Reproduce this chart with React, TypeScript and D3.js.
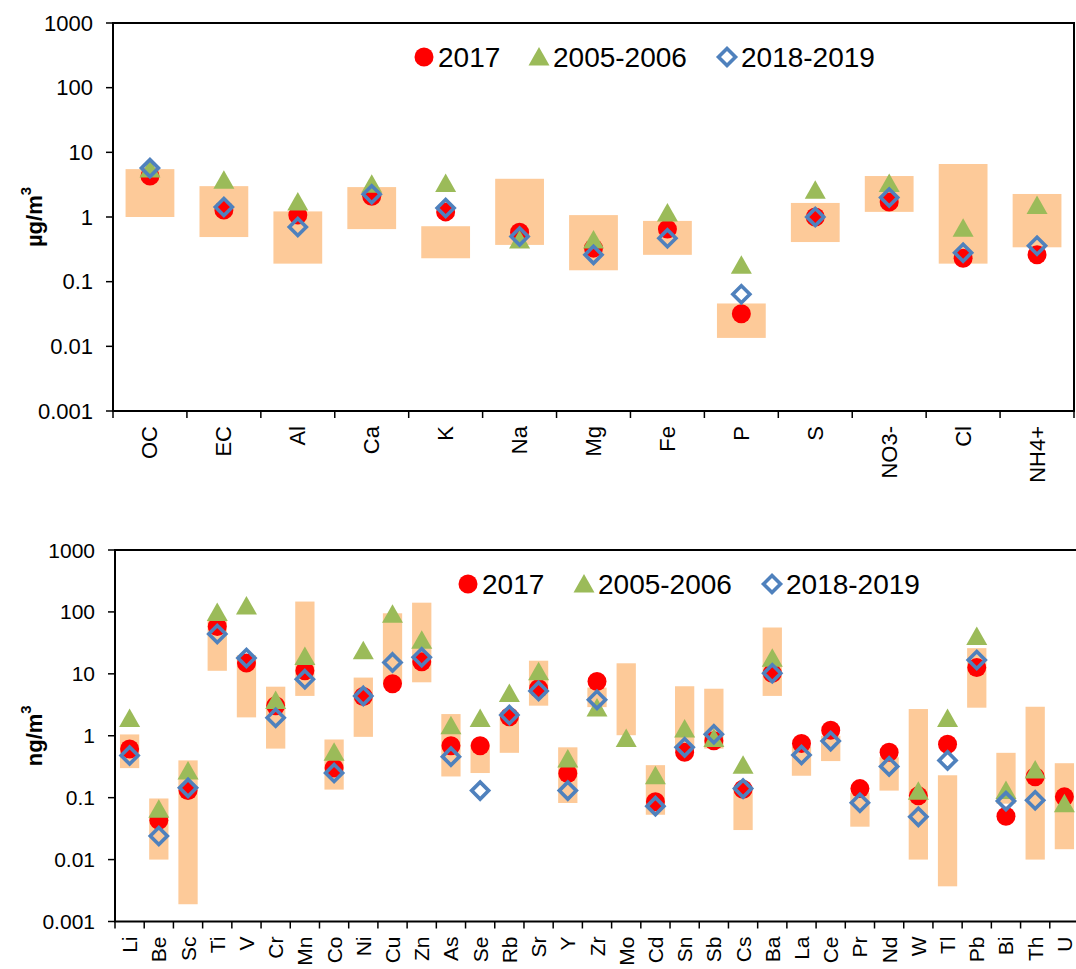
import React from "react";
import * as d3 from "d3";

// top panel: major species, ug/m3
const topCats = ["OC", "EC", "Al", "Ca", "K", "Na", "Mg", "Fe", "P", "S", "NO3-", "Cl", "NH4+"];
const top2017 = [4.3, 1.28, 1.07, 2.1, 1.2, 0.58, 0.33, 0.65, 0.032, 1.0, 1.7, 0.23, 0.26];
const top2005 = [5.5, 3.7, 1.7, 3.2, 3.3, 0.44, 0.44, 1.15, 0.18, 2.6, 3.3, 0.67, 1.5];
const top2018 = [5.7, 1.43, 0.7, 2.25, 1.38, 0.5, 0.26, 0.47, 0.064, 1.0, 2.0, 0.28, 0.36];
const topLo = [1.0, 0.49, 0.19, 0.65, 0.23, 0.37, 0.15, 0.26, 0.0135, 0.41, 1.2, 0.19, 0.34];
const topHi = [5.5, 3.0, 1.22, 2.9, 0.72, 3.9, 1.07, 0.87, 0.046, 1.65, 4.3, 6.6, 2.27];

// bottom panel: trace elements, ng/m3
const botCats = ["Li", "Be", "Sc", "Ti", "V", "Cr", "Mn", "Co", "Ni", "Cu", "Zn", "As", "Se", "Rb", "Sr", "Y", "Zr", "Mo", "Cd", "Sn", "Sb", "Cs", "Ba", "La", "Ce", "Pr", "Nd", "W", "Tl", "Pb", "Bi", "Th", "U"];
const bot2017 = [0.61, 0.043, 0.13, 58, 15, 3.06, 11.2, 0.3, 4.3, 6.9, 15.7, 0.69, 0.69, 2.03, 5.8, 0.246, 7.5, null, 0.086, 0.54, 0.83, 0.137, 10.2, 0.75, 1.23, 0.14, 0.54, 0.107, 0.73, 12.6, 0.05, 0.217, 0.103];
const bot2005 = [1.9, 0.065, 0.27, 98, 125, 3.7, 19, 0.54, 23.7, 92, 35, 1.45, 1.9, 4.8, 10.8, 0.42, 2.8, 0.9, 0.225, 1.28, 0.9, 0.335, 17.8, null, null, null, null, 0.127, 1.9, 40, 0.13, 0.28, 0.08];
const bot2018 = [0.48, 0.024, 0.144, 44, 18, 1.95, 8.2, 0.25, 4.4, 15.3, 18.5, 0.46, 0.13, 2.16, 5.3, 0.13, 3.8, null, 0.073, 0.65, 1.06, 0.14, 10.2, 0.49, 0.82, 0.083, 0.32, 0.049, 0.4, 16.7, 0.088, 0.091, null];
const botLo = [0.3, 0.01, 0.0019, 11.2, 1.98, 0.62, 4.4, 0.135, 0.96, 7, 7.3, 0.22, 0.25, 0.53, 3.06, 0.082, 2.9, 1.02, 0.053, 0.6, 0.62, 0.03, 4.4, 0.226, 0.39, 0.034, 0.13, 0.01, 0.0037, 2.84, 0.08, 0.01, 0.0147];
const botHi = [1.05, 0.097, 0.4, 74, 20, 6.2, 147, 0.87, 8.7, 95, 141, 2.24, 0.75, 2.4, 16.3, 0.65, 6.0, 14.8, 0.335, 6.3, 5.75, 0.15, 56, 0.66, 1.0, 0.12, 0.45, 2.7, 0.23, 26, 0.53, 2.94, 0.36];

const yTicks = [0.001, 0.01, 0.1, 1, 10, 100, 1000];
const seriesNames = ["2017", "2005-2006", "2018-2019"];

const FONT = "'Liberation Sans', Arial, sans-serif";
const RED = "#ff0000";
const GREEN = "#9bbb59";
const BLUE = "#4f81bd";
const PEACH = "#fdca99";

const circle = (x: number, y: number) => <circle cx={x} cy={y} r={9.5} fill={RED} />;
const triangle = (x: number, y: number) => (
  <path d={`M${x},${y - 10}L${x + 10.5},${y + 8.5}L${x - 10.5},${y + 8.5}Z`} fill={GREEN} />
);
const diamond = (x: number, y: number) => (
  <path
    d={`M${x},${y - 8.5}L${x + 8.5},${y}L${x},${y + 8.5}L${x - 8.5},${y}Z`}
    fill="none"
    stroke={BLUE}
    strokeWidth={3.6}
  />
);

function Panel({
  cats, s2017, s2005, s2018, lo, hi, left, right, top, bottom, unit, tickSize, labelSize, legendX,
}: {
  cats: string[];
  s2017: (number | null)[];
  s2005: (number | null)[];
  s2018: (number | null)[];
  lo: number[];
  hi: number[];
  left: number;
  right: number;
  top: number;
  bottom: number;
  unit: string;
  tickSize: number;
  labelSize: number;
  legendX: number[];
}) {
  const x = d3.scaleBand<string>().domain(cats).range([left, right]).paddingInner(0.34).paddingOuter(0.17);
  const y = d3.scaleLog().domain([0.001, 1000]).range([bottom, top]);
  const step = x.step();
  const cx = (c: string) => (x(c) as number) + x.bandwidth() / 2;
  const legendY = top + 34;

  return (
    <g>
      {/* min-max range bars */}
      {cats.map((c, i) => (
        <rect key={"b" + c} x={x(c)} width={x.bandwidth()} y={y(hi[i])} height={y(lo[i]) - y(hi[i])} fill={PEACH} />
      ))}
      {cats.map((c, i) => (s2017[i] != null ? <g key={"c" + c}>{circle(cx(c), y(s2017[i] as number))}</g> : null))}
      {cats.map((c, i) => (s2005[i] != null ? <g key={"t" + c}>{triangle(cx(c), y(s2005[i] as number))}</g> : null))}
      {cats.map((c, i) => (s2018[i] != null ? <g key={"d" + c}>{diamond(cx(c), y(s2018[i] as number))}</g> : null))}

      {/* frame */}
      <rect x={left} y={top} width={right - left} height={bottom - top} fill="none" stroke="#000" strokeWidth={2} />

      {/* y axis */}
      {yTicks.map((t) => (
        <g key={"y" + t}>
          <line x1={left - 7} x2={left} y1={y(t)} y2={y(t)} stroke="#000" strokeWidth={1.5} />
          <text x={left - 20} y={y(t)} textAnchor="end" dominantBaseline="central" fontSize={tickSize} fontFamily={FONT}>
            {String(t)}
          </text>
        </g>
      ))}
      <text
        transform={`translate(34,${(top + bottom) / 2}) rotate(-90)`}
        textAnchor="middle"
        dominantBaseline="central"
        fontSize={22}
        fontWeight="bold"
        fontFamily={FONT}
      >
        {unit}/m<tspan baselineShift="super" fontSize={15}>3</tspan>
      </text>

      {/* x axis */}
      {d3.range(cats.length + 1).map((i) => (
        <line key={"xt" + i} x1={left + i * step} x2={left + i * step} y1={bottom} y2={bottom + 7} stroke="#000" strokeWidth={1.5} />
      ))}
      {cats.map((c) => (
        <text
          key={"xl" + c}
          transform={`translate(${cx(c)},${bottom + 15}) rotate(-90)`}
          textAnchor="end"
          dominantBaseline="central"
          fontSize={labelSize}
          fontFamily={FONT}
        >
          {c}
        </text>
      ))}

      {/* legend */}
      {circle(legendX[0], legendY)}
      {triangle(legendX[1], legendY)}
      {diamond(legendX[2], legendY)}
      {seriesNames.map((n, i) => (
        <text key={"lg" + n} x={legendX[i] + 14} y={legendY} dominantBaseline="central" fontSize={28} fontFamily={FONT}>
          {n}
        </text>
      ))}
    </g>
  );
}

export default function App() {
  return (
    <svg width={1076} height={969} style={{ position: "absolute", left: 0, top: 0, background: "#fff" }}>
      <Panel
        cats={topCats}
        s2017={top2017}
        s2005={top2005}
        s2018={top2018}
        lo={topLo}
        hi={topHi}
        left={113}
        right={1074}
        top={23}
        bottom={411}
        unit="µg"
        tickSize={22}
        labelSize={22}
        legendX={[424, 539, 727]}
      />
      <Panel
        cats={botCats}
        s2017={bot2017}
        s2005={bot2005}
        s2018={bot2018}
        lo={botLo}
        hi={botHi}
        left={115}
        right={1079}
        top={550}
        bottom={921.5}
        unit="ng"
        tickSize={21}
        labelSize={21}
        legendX={[468, 584, 772]}
      />
    </svg>
  );
}
